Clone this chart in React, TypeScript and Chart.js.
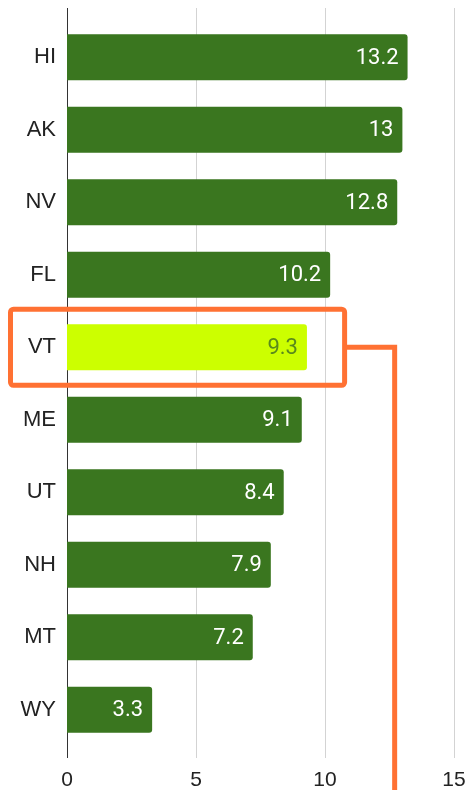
import React, { useEffect, useRef } from "react";
import { Chart, registerables } from "chart.js";

Chart.register(...registerables);

const states = ["HI", "AK", "NV", "FL", "VT", "ME", "UT", "NH", "MT", "WY"];
const values = [13.2, 13, 12.8, 10.2, 9.3, 9.1, 8.4, 7.9, 7.2, 3.3];
const xTicks = [0, 5, 10, 15];
const highlightState = "VT";
const calloutBoxRightValue = 10.76;
const calloutLineValue = 12.7;

const GREEN = "#3a761f";
const LIME = "#ccff00";
const ORANGE = "#ff7133";

export default function App() {
  const ref = useRef<HTMLCanvasElement | null>(null);

  useEffect(() => {
    if (!ref.current) return;
    const hiIdx = states.indexOf(highlightState);

    const gridPlugin = {
      id: "customGrid",
      beforeDatasetsDraw(chart: any) {
        const { ctx, chartArea, scales } = chart;
        const x = scales.x;
        ctx.save();
        const top = chartArea.top - 13;
        const bottom = chartArea.bottom + 12;
        for (const t of xTicks) {
          const px = Math.round(x.getPixelForValue(t)) + 0.5;
          ctx.beginPath();
          ctx.strokeStyle = t === 0 ? "#333333" : "#d3d3d3";
          ctx.lineWidth = 1;
          ctx.moveTo(px, top);
          ctx.lineTo(px, bottom);
          ctx.stroke();
        }
        ctx.restore();
      },
    };

    const labelPlugin = {
      id: "valueLabels",
      afterDatasetsDraw(chart: any) {
        const { ctx, scales } = chart;
        const meta = chart.getDatasetMeta(0);
        ctx.save();
        ctx.font = "22px Roboto";
        ctx.textAlign = "right";
        ctx.textBaseline = "middle";
        meta.data.forEach((bar: any, i: number) => {
          ctx.fillStyle = i === hiIdx ? "#5a8a1c" : "#ffffff";
          ctx.fillText(String(values[i]), bar.x - 9, bar.y + 1);
        });

        // callout annotation
        const y = scales.y;
        const x = scales.x;
        const cy = y.getPixelForValue(hiIdx);
        const band = Math.abs(y.getPixelForValue(1) - y.getPixelForValue(0));
        const half = band * 0.525;
        const left = 10.5;
        const right = x.getPixelForValue(calloutBoxRightValue);
        const lineX = x.getPixelForValue(calloutLineValue);
        ctx.strokeStyle = ORANGE;
        ctx.lineWidth = 5;
        ctx.lineJoin = "round";
        ctx.beginPath();
        if ((ctx as any).roundRect) {
          (ctx as any).roundRect(left, cy - half, right - left, half * 2, 3);
        } else {
          ctx.rect(left, cy - half, right - left, half * 2);
        }
        ctx.stroke();
        ctx.lineJoin = "miter";
        ctx.beginPath();
        ctx.moveTo(right, cy);
        ctx.lineTo(lineX, cy);
        ctx.lineTo(lineX, chart.height + 10);
        ctx.stroke();
        ctx.restore();
      },
    };

    const chart = new Chart(ref.current, {
      type: "bar",
      data: {
        labels: states,
        datasets: [
          {
            data: values,
            backgroundColor: states.map((s) => (s === highlightState ? LIME : GREEN)),
            borderRadius: 3,
            borderSkipped: "start",
            barPercentage: 0.634,
            categoryPercentage: 1,
          },
        ],
      },
      options: {
        indexAxis: "y",
        responsive: false,
        animation: false,
        maintainAspectRatio: false,
        layout: { padding: { top: 21, right: 15, left: 0, bottom: 0 } },
        plugins: {
          legend: { display: false },
          tooltip: { enabled: false },
        },
        scales: {
          x: {
            min: 0,
            max: 15,
            grid: { display: false },
            border: { display: false },
            afterBuildTicks(scale: any) {
              scale.ticks = xTicks.map((v) => ({ value: v }));
            },
            afterFit(scale: any) {
              scale.height = 44;
              scale.paddingLeft = 0;
              scale.paddingRight = 0;
            },
            ticks: {
              padding: 14,
              color: "#222222",
              font: { family: "Liberation Sans, Arial", size: 21 },
            },
          },
          y: {
            grid: { display: false, drawTicks: false },
            border: { display: false },
            afterFit(scale: any) {
              scale.width = 67;
              scale.paddingTop = 0;
              scale.paddingBottom = 0;
            },
            ticks: {
              padding: 11,
              color: "#222222",
              font: { family: "Liberation Sans, Arial", size: 22 },
            },
          },
        },
      },
      plugins: [gridPlugin, labelPlugin],
    });

    return () => chart.destroy();
  }, []);

  return (
    <div style={{ position: "absolute", left: 0, top: 0, width: 469, height: 790 }}>
      <canvas ref={ref} width={469} height={790} style={{ width: 469, height: 790 }} />
    </div>
  );
}
